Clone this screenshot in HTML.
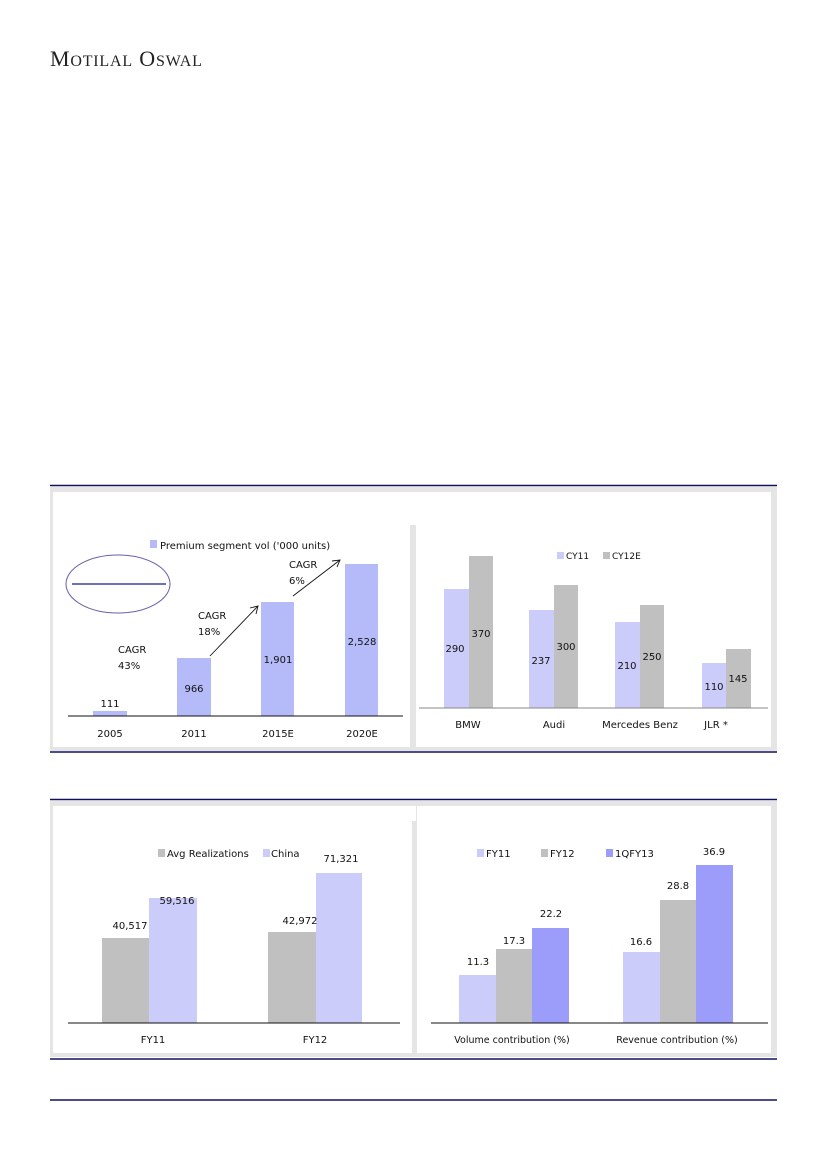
<!DOCTYPE html>
<html><head><meta charset="utf-8"><style>
html,body{margin:0;padding:0;background:#fff;}
svg{display:block;}
text{font-family:"DejaVu Sans","Liberation Sans",sans-serif;font-size:10px;fill:#111;}
.c{text-anchor:middle;}
</style></head><body>
<svg width="826" height="1169" viewBox="0 0 826 1169" xmlns="http://www.w3.org/2000/svg">
<text x="50" y="66" style="font-family:'Liberation Serif',serif;font-size:22px;fill:#222;letter-spacing:0.8px">M<tspan style="font-size:16px">OTILAL</tspan> O<tspan style="font-size:16px">SWAL</tspan></text>

<!-- top panel -->
<line x1="50" y1="485.5" x2="777" y2="485.5" stroke="#101060" stroke-width="1.4"/>
<rect x="50" y="487" width="727" height="264" fill="#e5e5e5"/>
<rect x="53" y="492" width="357" height="255" fill="#fff"/>
<rect x="410" y="492" width="6" height="33" fill="#fff"/>
<rect x="416" y="492" width="355" height="255" fill="#fff"/>
<line x1="50" y1="752" x2="777" y2="752" stroke="#101060" stroke-width="1.4"/>

<!-- left chart -->
<rect x="150" y="540" width="7" height="8" fill="#b4bbf8"/>
<text x="160" y="549">Premium segment vol ('000 units)</text>
<ellipse cx="118" cy="584" rx="52" ry="29" fill="none" stroke="#6a5fa8" stroke-width="1"/>
<line x1="72" y1="584" x2="166" y2="584" stroke="#1a1a8e" stroke-width="1.2"/>
<rect x="93" y="711" width="34" height="5" fill="#b4bbf8"/>
<rect x="177" y="658" width="34" height="58" fill="#b4bbf8"/>
<rect x="261" y="602" width="33" height="114" fill="#b4bbf8"/>
<rect x="345" y="564" width="33" height="152" fill="#b4bbf8"/>
<line x1="68" y1="716" x2="403" y2="716" stroke="#111" stroke-width="1"/>
<text class="c" x="110" y="707">111</text>
<text class="c" x="194" y="692">966</text>
<text class="c" x="278" y="663">1,901</text>
<text class="c" x="362" y="645">2,528</text>
<text class="c" x="110" y="737">2005</text>
<text class="c" x="194" y="737">2011</text>
<text class="c" x="278" y="737">2015E</text>
<text class="c" x="362" y="737">2020E</text>
<text x="118" y="653">CAGR</text><text x="118" y="669">43%</text>
<text x="198" y="619">CAGR</text><text x="198" y="635">18%</text>
<text x="289" y="568">CAGR</text><text x="289" y="584">6%</text>
<g stroke="#111" stroke-width="0.9" fill="none">
<line x1="210" y1="656" x2="258" y2="606"/><polyline points="250,608 258,606 256,614"/>
<line x1="293" y1="596" x2="340" y2="560"/><polyline points="332,561 340,560 337,567"/>
</g>

<!-- right chart -->
<rect x="557" y="552" width="7" height="7" fill="#ccccfa"/><text x="566" y="559" style="font-size:9px">CY11</text>
<rect x="603" y="552" width="7" height="7" fill="#c0c0c0"/><text x="612" y="559" style="font-size:9px">CY12E</text>
<rect x="444" y="589" width="25" height="119" fill="#ccccfa"/><rect x="469" y="556" width="24" height="152" fill="#c0c0c0"/>
<rect x="529" y="610" width="25" height="98" fill="#ccccfa"/><rect x="554" y="585" width="24" height="123" fill="#c0c0c0"/>
<rect x="615" y="622" width="25" height="86" fill="#ccccfa"/><rect x="640" y="605" width="24" height="103" fill="#c0c0c0"/>
<rect x="702" y="663" width="24" height="45" fill="#ccccfa"/><rect x="726" y="649" width="25" height="59" fill="#c0c0c0"/>
<line x1="419" y1="708" x2="768" y2="708" stroke="#888" stroke-width="1"/>
<text class="c" x="455" y="652">290</text><text class="c" x="481" y="637">370</text>
<text class="c" x="541" y="664">237</text><text class="c" x="566" y="650">300</text>
<text class="c" x="627" y="669">210</text><text class="c" x="652" y="660">250</text>
<text class="c" x="714" y="690">110</text><text class="c" x="738" y="682">145</text>
<text class="c" x="468" y="728">BMW</text>
<text class="c" x="554" y="728">Audi</text>
<text class="c" x="640" y="728">Mercedes Benz</text>
<text class="c" x="716" y="728">JLR *</text>

<!-- bottom panel -->
<line x1="50" y1="799.5" x2="777" y2="799.5" stroke="#101060" stroke-width="1.4"/>
<rect x="50" y="801" width="727" height="256" fill="#e5e5e5"/>
<rect x="53" y="806" width="359" height="247" fill="#fff"/>
<rect x="412" y="806" width="4" height="15" fill="#fff"/>
<rect x="417" y="806" width="354" height="247" fill="#fff"/>
<line x1="50" y1="1059" x2="777" y2="1059" stroke="#101060" stroke-width="1.4"/>
<line x1="50" y1="1100" x2="777" y2="1100" stroke="#101060" stroke-width="1.4"/>

<rect x="158" y="849" width="7" height="8" fill="#c0c0c0"/><text x="167" y="857">Avg Realizations</text>
<rect x="263" y="849" width="7" height="8" fill="#ccccfa"/><text x="271" y="857">China</text>
<rect x="102" y="938" width="47" height="85" fill="#c0c0c0"/><rect x="149" y="898" width="48" height="125" fill="#ccccfa"/>
<rect x="268" y="932" width="48" height="91" fill="#c0c0c0"/><rect x="316" y="873" width="46" height="150" fill="#ccccfa"/>
<line x1="68" y1="1023" x2="400" y2="1023" stroke="#111" stroke-width="1"/>
<text class="c" x="130" y="929">40,517</text><text class="c" x="177" y="904">59,516</text>
<text class="c" x="300" y="924">42,972</text><text class="c" x="341" y="862">71,321</text>
<text class="c" x="153" y="1043">FY11</text><text class="c" x="315" y="1043">FY12</text>

<rect x="477" y="849" width="7" height="8" fill="#ccccfa"/><text x="486" y="857">FY11</text>
<rect x="541" y="849" width="7" height="8" fill="#c0c0c0"/><text x="550" y="857">FY12</text>
<rect x="606" y="849" width="7" height="8" fill="#9c9cfa"/><text x="615" y="857">1QFY13</text>
<rect x="459" y="975" width="37" height="48" fill="#ccccfa"/><rect x="496" y="949" width="36" height="74" fill="#c0c0c0"/><rect x="532" y="928" width="37" height="95" fill="#9c9cfa"/>
<rect x="623" y="952" width="37" height="71" fill="#ccccfa"/><rect x="660" y="900" width="36" height="123" fill="#c0c0c0"/><rect x="696" y="865" width="37" height="158" fill="#9c9cfa"/>
<line x1="431" y1="1023" x2="768" y2="1023" stroke="#111" stroke-width="1"/>
<text class="c" x="478" y="965">11.3</text><text class="c" x="514" y="944">17.3</text><text class="c" x="551" y="917">22.2</text>
<text class="c" x="641" y="945">16.6</text><text class="c" x="678" y="889">28.8</text><text class="c" x="714" y="855">36.9</text>
<text class="c" x="512" y="1043" style="font-size:9.5px">Volume contribution (%)</text>
<text class="c" x="677" y="1043" style="font-size:9.5px">Revenue contribution (%)</text>
</svg>
</body></html>
